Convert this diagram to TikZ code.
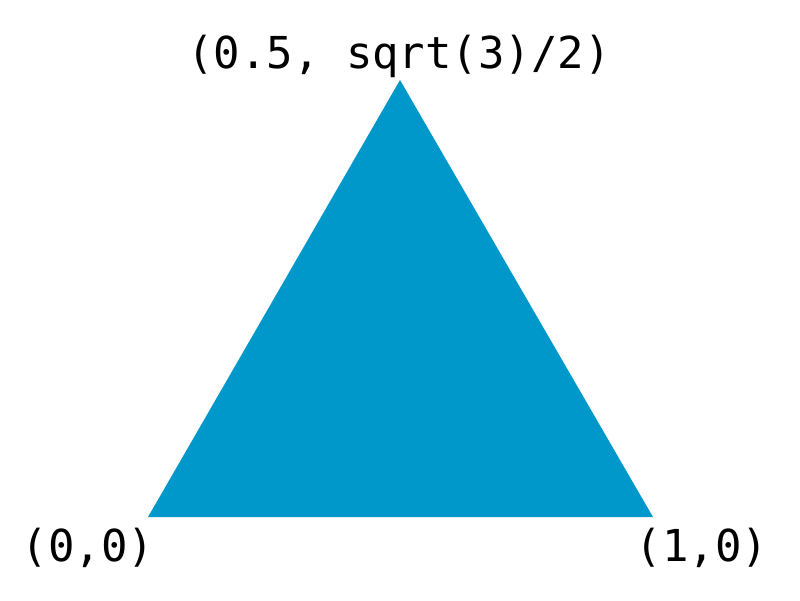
\documentclass[tikz,border=0pt]{standalone}
\usepackage{fontspec}
\newfontfamily\codefont{DejaVu Sans Mono}
\usepackage{xcolor}
\definecolor{trifill}{RGB}{0,152,202}
\tikzset{>=latex}
\tikzset{vlabel/.style={anchor=base,inner sep=0pt,font=\codefont\fontsize{44}{50}\selectfont}}

\begin{document}
\begin{tikzpicture}[x=1pt,y=-1pt]
  \useasboundingbox (0,0) rectangle (800,600);
  \coordinate (a) at (148,517);
  \coordinate (b) at (653,517);
  \coordinate (c) at (400,80);
  \fill[trifill] (a) -- (b) -- (c) -- cycle;
  \node[vlabel] (la) at (88,561) {(0,0)};
  \node[vlabel] (lb) at (702,561) {(1,0)};
  \node[vlabel] (lc) at (399,68) {(0.5, sqrt(3)/2)};
 \end{tikzpicture}
\end{document}
